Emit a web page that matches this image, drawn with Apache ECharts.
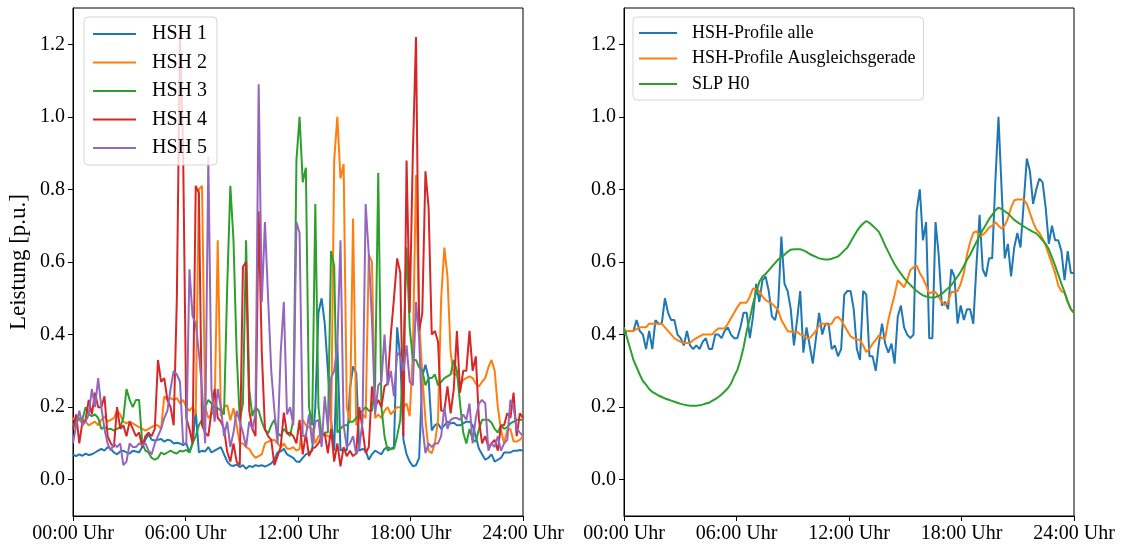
<!DOCTYPE html>
<html>
<head>
<meta charset="utf-8">
<script src="https://cdn.jsdelivr.net/npm/echarts@6/dist/echarts.min.js"></script>
<style>
  html, body { margin: 0; padding: 0; background: #fff; }
  #chart { width: 1127px; height: 547px; }
</style>
</head>
<body>
<div id="chart"></div>
<script>
// ---- tick labels ----
const xTickLabels = ['00:00 Uhr', '06:00 Uhr', '12:00 Uhr', '18:00 Uhr', '24:00 Uhr'];
const yTickValues = [0.0, 0.2, 0.4, 0.6, 0.8, 1.0, 1.2];

// ---- left panel: single households (10-min values) ----
const hsh1 = [0.07,0.065,0.07,0.066,0.072,0.068,0.07,0.075,0.08,0.085,0.08,0.09,0.085,0.075,0.07,0.078,0.08,0.075,0.072,0.08,0.078,0.075,0.09,0.11,0.125,0.11,0.108,0.11,0.112,0.105,0.11,0.108,0.1,0.102,0.1,0.095,0.1,0.075,0.1,0.19,0.075,0.08,0.078,0.09,0.075,0.08,0.085,0.09,0.07,0.05,0.04,0.038,0.042,0.035,0.04,0.03,0.038,0.035,0.04,0.038,0.04,0.036,0.04,0.045,0.055,0.075,0.078,0.085,0.07,0.065,0.06,0.05,0.049,0.06,0.07,0.074,0.08,0.2,0.46,0.5,0.43,0.3,0.165,0.08,0.376,0.08,0.085,0.08,0.25,0.312,0.294,0.08,0.085,0.08,0.055,0.07,0.08,0.075,0.07,0.085,0.09,0.085,0.09,0.42,0.337,0.11,0.07,0.05,0.037,0.04,0.06,0.285,0.317,0.28,0.136,0.15,0.155,0.14,0.15,0.16,0.155,0.157,0.15,0.15,0.155,0.16,0.16,0.15,0.12,0.085,0.07,0.055,0.06,0.07,0.05,0.055,0.06,0.075,0.075,0.075,0.08,0.08,0.082,0.08];
const hsh2 = [0.17,0.16,0.165,0.155,0.16,0.15,0.155,0.16,0.15,0.165,0.175,0.16,0.165,0.17,0.19,0.18,0.16,0.155,0.16,0.155,0.15,0.145,0.14,0.135,0.14,0.145,0.15,0.15,0.14,0.23,0.22,0.225,0.22,0.225,0.21,0.22,0.2,0.19,0.2,0.18,0.8,0.81,0.2,0.17,0.18,0.19,0.66,0.175,0.2,0.206,0.164,0.197,0.15,0.1,0.1,0.09,0.085,0.07,0.06,0.065,0.07,0.1,0.105,0.108,0.11,0.1,0.09,0.1,0.085,0.085,0.09,0.08,0.085,0.165,0.15,0.145,0.14,0.1,0.12,0.127,0.125,0.12,0.115,0.88,1.0,0.83,0.87,0.2,0.16,0.72,0.15,0.17,0.18,0.17,0.62,0.6,0.17,0.18,0.17,0.19,0.2,0.18,0.19,0.2,0.2,0.2,0.21,0.175,0.35,0.84,0.44,0.29,0.165,0.08,0.073,0.1,0.165,0.5,0.64,0.56,0.35,0.29,0.29,0.257,0.275,0.28,0.285,0.28,0.265,0.257,0.27,0.28,0.31,0.33,0.3,0.2,0.137,0.1,0.137,0.14,0.105,0.105,0.11,0.12];
const hsh3 = [0.14,0.16,0.17,0.165,0.2,0.18,0.175,0.18,0.17,0.14,0.145,0.14,0.14,0.135,0.14,0.145,0.17,0.25,0.22,0.2,0.22,0.22,0.1,0.08,0.075,0.06,0.055,0.06,0.075,0.07,0.075,0.08,0.075,0.072,0.08,0.078,0.082,0.075,0.1,0.12,0.15,0.165,0.2,0.22,0.21,0.2,0.197,0.19,0.18,0.53,0.81,0.66,0.35,0.163,0.21,0.66,0.25,0.175,0.2,0.19,0.16,0.137,0.128,0.15,0.165,0.13,0.12,0.14,0.13,0.12,0.165,0.88,1.0,0.82,0.86,0.2,0.15,0.76,0.2,0.12,0.13,0.13,0.63,0.59,0.13,0.14,0.15,0.15,0.16,0.16,0.17,0.18,0.19,0.2,0.19,0.19,0.26,0.845,0.2,0.12,0.08,0.085,0.085,0.12,0.165,0.34,0.64,0.42,0.33,0.33,0.31,0.3,0.26,0.28,0.28,0.29,0.26,0.27,0.28,0.285,0.29,0.33,0.3,0.21,0.13,0.1,0.14,0.11,0.105,0.14,0.165,0.165,0.165,0.157,0.14,0.13,0.15,0.14,0.145,0.155,0.16,0.165,0.165,0.165];
const hsh4 = [0.14,0.18,0.1,0.16,0.165,0.22,0.18,0.24,0.2,0.2,0.23,0.12,0.1,0.09,0.2,0.14,0.15,0.12,0.16,0.14,0.12,0.13,0.09,0.12,0.13,0.12,0.14,0.33,0.27,0.28,0.22,0.2,0.15,0.5,1.22,0.9,0.17,0.14,0.1,0.81,0.79,0.15,0.13,0.12,0.19,0.25,0.17,0.16,0.14,0.077,0.05,0.1,0.05,0.04,0.587,0.6,0.19,0.14,0.12,0.74,0.35,0.14,0.12,0.11,0.04,0.065,0.09,0.185,0.127,0.13,0.12,0.1,0.165,0.07,0.127,0.065,0.085,0.09,0.1,0.12,0.127,0.073,0.14,0.05,0.1,0.037,0.09,0.065,0.08,0.065,0.073,0.2,0.14,0.073,0.09,0.257,0.2,0.22,0.2,0.257,0.265,0.4,0.5,0.61,0.57,0.12,0.88,0.46,0.9,1.22,0.41,0.46,0.85,0.75,0.4,0.41,0.38,0.19,0.19,0.257,0.183,0.25,0.41,0.24,0.3,0.3,0.41,0.3,0.34,0.165,0.1,0.12,0.09,0.1,0.11,0.08,0.15,0.15,0.183,0.17,0.24,0.12,0.183,0.17];
const hsh5 = [0.1,0.15,0.19,0.15,0.16,0.18,0.25,0.2,0.28,0.2,0.14,0.1,0.08,0.1,0.09,0.1,0.04,0.05,0.1,0.09,0.09,0.1,0.095,0.1,0.08,0.07,0.1,0.12,0.14,0.17,0.19,0.25,0.3,0.29,0.27,0.1,0.1,0.58,0.45,0.43,0.35,0.25,0.1,0.89,0.25,0.16,0.25,0.2,0.12,0.16,0.09,0.13,0.19,0.16,0.13,0.09,0.16,0.14,0.18,1.09,0.49,0.71,0.5,0.3,0.19,0.1,0.35,0.49,0.18,0.2,0.15,0.71,0.68,0.12,0.12,0.18,0.1,0.16,0.165,0.09,0.23,0.14,0.28,0.3,0.37,0.66,0.15,0.09,0.1,0.12,0.07,0.09,0.16,0.76,0.62,0.44,0.18,0.26,0.27,0.4,0.26,0.3,0.23,0.35,0.34,0.3,0.37,0.27,0.26,0.49,0.39,0.15,0.073,0.1,0.09,0.1,0.1,0.12,0.2,0.14,0.165,0.17,0.17,0.165,0.18,0.165,0.21,0.1,0.17,0.21,0.22,0.21,0.08,0.1,0.09,0.12,0.08,0.1,0.11,0.22,0.2,0.14,0.13,0.12];

// ---- right panel: aggregated profiles ----
const profileAlle = [0.40,0.41,0.41,0.41,0.44,0.41,0.40,0.36,0.41,0.36,0.44,0.43,0.43,0.50,0.46,0.44,0.44,0.40,0.39,0.37,0.41,0.37,0.36,0.37,0.36,0.38,0.39,0.36,0.36,0.40,0.40,0.39,0.41,0.42,0.40,0.39,0.39,0.42,0.46,0.46,0.39,0.45,0.54,0.49,0.55,0.56,0.52,0.45,0.44,0.48,0.67,0.54,0.52,0.47,0.37,0.44,0.52,0.35,0.42,0.37,0.32,0.39,0.46,0.40,0.43,0.43,0.36,0.37,0.34,0.36,0.51,0.52,0.52,0.47,0.36,0.33,0.52,0.51,0.34,0.34,0.30,0.375,0.43,0.375,0.35,0.375,0.32,0.45,0.48,0.42,0.40,0.39,0.40,0.74,0.80,0.66,0.71,0.39,0.39,0.71,0.62,0.48,0.49,0.47,0.58,0.56,0.43,0.48,0.44,0.47,0.47,0.43,0.59,0.73,0.58,0.56,0.61,0.61,0.82,1.00,0.80,0.61,0.65,0.56,0.64,0.68,0.64,0.76,0.885,0.85,0.76,0.80,0.83,0.82,0.75,0.65,0.70,0.66,0.66,0.63,0.55,0.63,0.57,0.57];
const profileFit = [0.41,0.41,0.41,0.41,0.415,0.42,0.42,0.42,0.43,0.43,0.43,0.43,0.43,0.42,0.41,0.40,0.39,0.385,0.38,0.377,0.377,0.377,0.385,0.39,0.395,0.40,0.40,0.40,0.40,0.41,0.417,0.417,0.417,0.43,0.445,0.46,0.475,0.488,0.488,0.488,0.505,0.527,0.525,0.52,0.505,0.495,0.49,0.485,0.477,0.467,0.44,0.425,0.41,0.408,0.408,0.408,0.40,0.398,0.39,0.39,0.40,0.41,0.425,0.43,0.43,0.425,0.43,0.445,0.449,0.44,0.425,0.41,0.395,0.39,0.387,0.385,0.37,0.352,0.36,0.375,0.385,0.398,0.39,0.39,0.44,0.476,0.51,0.55,0.54,0.53,0.55,0.578,0.585,0.59,0.57,0.555,0.536,0.513,0.517,0.517,0.504,0.49,0.481,0.49,0.517,0.517,0.52,0.54,0.57,0.62,0.655,0.68,0.685,0.67,0.675,0.683,0.695,0.70,0.71,0.70,0.692,0.70,0.72,0.75,0.77,0.772,0.772,0.772,0.76,0.735,0.71,0.69,0.68,0.665,0.645,0.62,0.595,0.57,0.535,0.52,0.515,0.49,0.47,0.46];
const slpH0 = [0.42,0.39,0.36,0.33,0.31,0.29,0.272,0.262,0.25,0.242,0.237,0.232,0.228,0.224,0.221,0.218,0.215,0.212,0.209,0.207,0.205,0.204,0.204,0.204,0.205,0.207,0.21,0.212,0.217,0.222,0.228,0.235,0.243,0.252,0.265,0.285,0.302,0.33,0.365,0.41,0.445,0.485,0.515,0.545,0.56,0.567,0.577,0.587,0.597,0.607,0.614,0.62,0.628,0.634,0.635,0.635,0.635,0.632,0.628,0.622,0.618,0.614,0.61,0.608,0.607,0.607,0.609,0.612,0.615,0.623,0.632,0.64,0.655,0.67,0.685,0.697,0.706,0.713,0.708,0.70,0.692,0.683,0.665,0.645,0.628,0.61,0.594,0.58,0.568,0.556,0.546,0.537,0.528,0.52,0.514,0.508,0.505,0.503,0.502,0.503,0.507,0.512,0.52,0.528,0.536,0.548,0.56,0.573,0.589,0.606,0.62,0.638,0.655,0.672,0.688,0.703,0.718,0.73,0.742,0.75,0.746,0.74,0.734,0.725,0.716,0.71,0.704,0.698,0.693,0.688,0.683,0.679,0.67,0.66,0.65,0.635,0.613,0.59,0.565,0.54,0.518,0.49,0.47,0.46];

const COLORS = ['#1f77b4', '#ff7f0e', '#2ca02c', '#d62728', '#9467bd'];
const FONT = '"Liberation Serif", "DejaVu Serif", serif';

function toXY(arr) {
  const n = arr.length;
  return arr.map((v, i) => [i * 24 / (n - 1), v]);
}

function xAxisCfg(gridIndex) {
  return {
    type: 'value', gridIndex, min: 0, max: 24, interval: 6,
    axisLine: { show: true, onZero: false, lineStyle: { color: '#000', width: 1 } },
    axisTick: { show: true, inside: false, length: 5, lineStyle: { color: '#000' } },
    axisLabel: {
      color: '#000', fontFamily: FONT, fontSize: 20, margin: 8,
      showMinLabel: true, showMaxLabel: true,
      formatter: v => xTickLabels[Math.round(v / 6)]
    },
    splitLine: { show: false }
  };
}
function yAxisCfg(gridIndex, name) {
  return {
    type: 'value', gridIndex, min: -0.1, max: 1.3,
    name: name || '', nameLocation: 'middle', nameRotate: 90, nameGap: 43,
    nameTextStyle: { color: '#000', fontFamily: FONT, fontSize: 23 },
    axisLine: { show: true, onZero: false, lineStyle: { color: '#000', width: 1 } },
    axisTick: { show: true, inside: false, length: 5, lineStyle: { color: '#000' }, customValues: yTickValues },
    axisLabel: {
      color: '#000', fontFamily: FONT, fontSize: 20, margin: 8,
      customValues: yTickValues,
      formatter: v => v.toFixed(1)
    },
    splitLine: { show: false }
  };
}
function lineSeries(name, data, color, xi, yi) {
  return {
    name, type: 'line', xAxisIndex: xi, yAxisIndex: yi,
    data: toXY(data), showSymbol: false, symbol: 'none',
    lineStyle: { color, width: 2 }, itemStyle: { color },
    animation: false, clip: true
  };
}

const chart = echarts.init(document.getElementById('chart'), null, { renderer: 'canvas' });
chart.setOption({
  backgroundColor: '#fff',
  animation: false,
  grid: [
    { left: 73, top: 8, width: 450, height: 508, show: true, borderColor: '#000', borderWidth: 1, backgroundColor: 'transparent' },
    { left: 624, top: 8, width: 450, height: 508, show: true, borderColor: '#000', borderWidth: 1, backgroundColor: 'transparent' }
  ],
  xAxis: [xAxisCfg(0), xAxisCfg(1)],
  yAxis: [yAxisCfg(0, 'Leistung [p.u.]'), yAxisCfg(1)],
  legend: [
    {
      data: ['HSH 1', 'HSH 2', 'HSH 3', 'HSH 4', 'HSH 5'],
      orient: 'vertical', left: 84, top: 17,
      icon: 'rect', itemWidth: 43, itemHeight: 2, itemGap: 8.5,
      padding: [7, 10, 7, 9],
      backgroundColor: 'rgba(255,255,255,0.8)', borderColor: '#d5d5d5', borderWidth: 1, borderRadius: 4,
      textStyle: { color: '#000', fontFamily: FONT, fontSize: 20, lineHeight: 20, padding: [0, 0, 0, 11] },
      selectedMode: false
    },
    {
      data: ['HSH-Profile alle', 'HSH-Profile Ausgleichsgerade', 'SLP H0'],
      orient: 'vertical', left: 633, top: 17,
      icon: 'rect', itemWidth: 38, itemHeight: 2, itemGap: 7.5,
      padding: [7, 8, 7, 6],
      backgroundColor: 'rgba(255,255,255,0.8)', borderColor: '#d5d5d5', borderWidth: 1, borderRadius: 4,
      textStyle: { color: '#000', fontFamily: FONT, fontSize: 18, lineHeight: 18, padding: [0, 0, 0, 10] },
      selectedMode: false
    }
  ],
  series: [
    lineSeries('HSH 1', hsh1, COLORS[0], 0, 0),
    lineSeries('HSH 2', hsh2, COLORS[1], 0, 0),
    lineSeries('HSH 3', hsh3, COLORS[2], 0, 0),
    lineSeries('HSH 4', hsh4, COLORS[3], 0, 0),
    lineSeries('HSH 5', hsh5, COLORS[4], 0, 0),
    lineSeries('HSH-Profile alle', profileAlle, COLORS[0], 1, 1),
    lineSeries('HSH-Profile Ausgleichsgerade', profileFit, COLORS[1], 1, 1),
    lineSeries('SLP H0', slpH0, COLORS[2], 1, 1)
  ]
});
</script>
</body>
</html>
